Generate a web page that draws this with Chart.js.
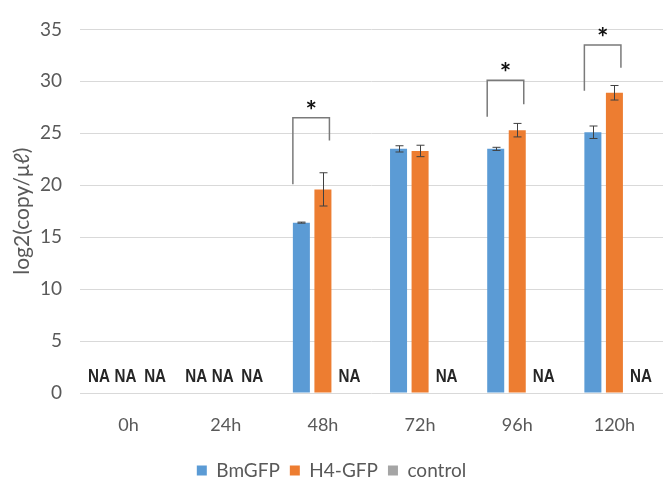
<!DOCTYPE html>
<html>
<head>
<meta charset="utf-8">
<script src="https://cdn.jsdelivr.net/npm/chart.js@4.4.0/dist/chart.umd.min.js"></script>
<style>
  html, body { margin: 0; padding: 0; background: #fff; }
  #wrap { width: 665px; height: 483px; }
</style>
</head>
<body>
<div id="wrap"><canvas id="chart"></canvas></div>
<script>
const labels = ["0h", "24h", "48h", "72h", "96h", "120h"];
const bmGFP = [null, null, 16.4, 23.5, 23.5, 25.1];
const h4GFP = [null, null, 19.6, 23.3, 25.3, 28.9];
const control = [null, null, null, null, null, null];
const bmGFPErr = [null, null, 0.05, 0.3, 0.15, 0.6];
const h4GFPErr = [null, null, 1.6, 0.55, 0.65, 0.7];
// significance brackets (y values): left foot, top, right foot
const bracketLeft = [null, null, 20.1, null, 26.6, 29.1];
const bracketTop = [null, null, 26.5, null, 30.1, 33.5];
const bracketRight = [null, null, 24.3, null, 27.8, 31.3];

const FONT = "Lato, 'Open Sans', sans-serif";
const GREY = "#595959";

const extras = {
  id: "extras",
  afterLayout(chart) {
    // legend sits a little lower in the original
    const lg = chart.legend;
    lg.top += 7; lg.bottom += 7;
  },
  afterDatasetsDraw(chart) {
    const ctx = chart.ctx;
    const y = chart.scales.y;
    const metas = [0, 1, 2].map(k => chart.getDatasetMeta(k));
    const [metaB, metaH] = metas;
    ctx.save();

    // error bars
    ctx.strokeStyle = "#404040";
    ctx.lineWidth = 1;
    [[metaB, bmGFP, bmGFPErr], [metaH, h4GFP, h4GFPErr]].forEach(([meta, vals, errs]) => {
      vals.forEach((v, i) => {
        if (v == null || errs[i] == null) return;
        const x = Math.round(meta.data[i].x) + 0.5;
        const yt = y.getPixelForValue(v + errs[i]);
        const yb = y.getPixelForValue(v - errs[i]);
        ctx.beginPath();
        ctx.moveTo(x, yt); ctx.lineTo(x, yb);
        ctx.moveTo(x - 4, yt); ctx.lineTo(x + 4, yt);
        ctx.moveTo(x - 4, yb); ctx.lineTo(x + 4, yb);
        ctx.stroke();
      });
    });

    // NA labels (narrowed bold text, spread a bit like the original)
    ctx.fillStyle = "#262626";
    ctx.font = "bold 19px 'Liberation Sans', Arial, sans-serif";
    ctx.textAlign = "center";
    ctx.textBaseline = "middle";
    const y0 = y.getPixelForValue(0);
    const shift = [-8, -3, 5];
    [bmGFP, h4GFP, control].forEach((vals, k) => {
      vals.forEach((v, i) => {
        if (v != null) return;
        ctx.save();
        ctx.translate(metas[k].data[i].x + shift[k], y0 - 16);
        ctx.scale(0.8, 1);
        ctx.fillText("NA", 0, 0);
        ctx.restore();
      });
    });

    // significance brackets
    ctx.strokeStyle = "#7a7a7a";
    ctx.lineWidth = 1.5;
    labels.forEach((_, i) => {
      if (bracketTop[i] == null) return;
      const b = metaB.data[i], h = metaH.data[i];
      const xl = b.x - b.width / 2;
      const xr = h.x + h.width / 2 - 2;
      const yt = y.getPixelForValue(bracketTop[i]);
      ctx.beginPath();
      ctx.moveTo(xl, y.getPixelForValue(bracketLeft[i]));
      ctx.lineTo(xl, yt);
      ctx.lineTo(xr, yt);
      ctx.lineTo(xr, y.getPixelForValue(bracketRight[i]));
      ctx.stroke();
      ctx.fillStyle = "#111";
      ctx.font = "bold 27px " + FONT;
      ctx.textBaseline = "alphabetic";
      ctx.fillText("*", (xl + xr) / 2, yt + 2);
    });
    ctx.restore();
  }
};

new Chart(document.getElementById("chart"), {
  type: "bar",
  data: {
    labels: labels,
    datasets: [
      { label: "BmGFP", data: bmGFP, backgroundColor: "#5b9bd5" },
      { label: "H4-GFP", data: h4GFP, backgroundColor: "#ed7d31" },
      { label: "control", data: control, backgroundColor: "#a5a5a5" }
    ]
  },
  options: {
    responsive: true,
    maintainAspectRatio: false,
    animation: false,
    categoryPercentage: 0.665,
    barPercentage: 0.79,
    layout: { padding: { top: 26, right: 2, left: 0, bottom: 0 } },
    plugins: {
      tooltip: { enabled: false },
      legend: {
        position: "bottom",
        labels: {
          boxWidth: 10,
          boxHeight: 10,
          padding: 10,
          color: GREY,
          font: { family: FONT, size: 19 }
        }
      }
    },
    scales: {
      x: {
        grid: { display: false, drawTicks: false },
        border: { display: false },
        ticks: { color: GREY, font: { family: FONT, size: 18 }, padding: 21, maxRotation: 0 },
        afterFit(s) { s.height = 51; }
      },
      y: {
        min: 0,
        max: 35,
        ticks: { stepSize: 5, color: GREY, font: { family: FONT, size: 19 }, padding: 18 },
        grid: { color: "#d9d9d9", drawTicks: false },
        border: { display: false },
        title: {
          display: true,
          text: "log2(copy/μℓ)",
          color: GREY,
          font: { family: FONT, size: 21 },
          padding: { top: 10, bottom: 0 }
        },
        afterFit(s) { s.width = 80; }
      }
    }
  },
  plugins: [extras]
});
</script>
</body>
</html>
